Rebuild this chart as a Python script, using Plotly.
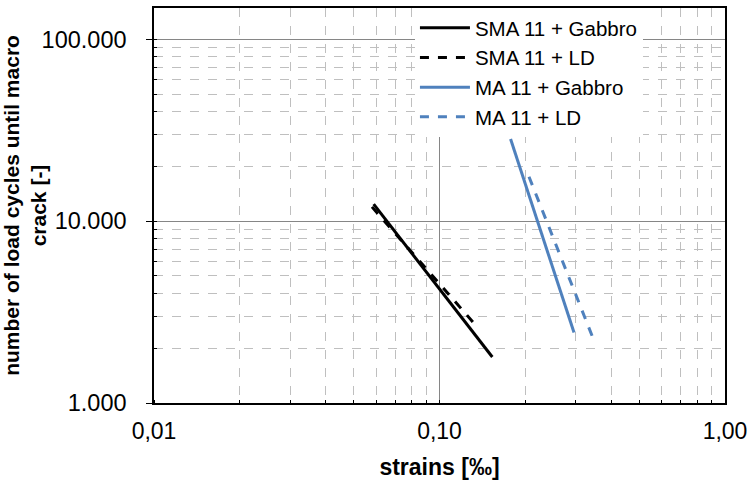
import plotly.graph_objects as go
import math

# Data (strain [‰], load cycles)
sma_gabbro_x = [0.0588, 0.1531]
sma_gabbro_y = [12400, 1790]
sma_ld_x = [0.0580, 0.1356]
sma_ld_y = [11980, 2620]
ma_gabbro_x = [0.1774, 0.2959]
ma_gabbro_y = [28270, 2440]
ma_ld_x = [0.2058, 0.3435]
ma_ld_y = [17530, 2310]

series_names = ["SMA 11 + Gabbro", "SMA 11 + LD", "MA 11 + Gabbro", "MA 11 + LD"]
x_tickvals = [0.01, 0.1, 1.0]
y_tickvals = [1000, 10000, 100000]

BLACK = "#000000"
BLUE = "#4F81BD"
FONT = "Arial, Liberation Sans, sans-serif"

fig = go.Figure()
fig.add_trace(go.Scatter(x=sma_gabbro_x, y=sma_gabbro_y, mode="lines", name=series_names[0],
                         line=dict(color=BLACK, width=3)))
fig.add_trace(go.Scatter(x=sma_ld_x, y=sma_ld_y, mode="lines", name=series_names[1],
                         line=dict(color=BLACK, width=3, dash="dash")))
fig.add_trace(go.Scatter(x=ma_gabbro_x, y=ma_gabbro_y, mode="lines", name=series_names[2],
                         line=dict(color=BLUE, width=3)))
fig.add_trace(go.Scatter(x=ma_ld_x, y=ma_ld_y, mode="lines", name=series_names[3],
                         line=dict(color=BLUE, width=3, dash="dash")))

fig.update_layout(
    width=751, height=483,
    margin=dict(l=154, r=26, t=8, b=80, autoexpand=False),
    paper_bgcolor="white", plot_bgcolor="white",
    separators=",.",
    font=dict(family=FONT, size=22, color="black"),
    showlegend=True,
    legend=dict(x=0.457, y=1.0, xanchor="left", yanchor="top",
                bgcolor="white", borderwidth=0, itemwidth=50,
                font=dict(family=FONT, size=20.5, color="black"),
                tracegroupgap=0),
    xaxis=dict(
        type="log", range=[-2, 0], automargin=False,
        tickvals=x_tickvals, tickformat=".2f",
        showgrid=True, gridcolor="#868686", gridwidth=1,
        showline=True, linecolor="black", linewidth=1.5, mirror=True,
        ticks="", zeroline=False, ticklabelstandoff=7,
        ticklabeloverflow="allow",
        tickfont=dict(family=FONT, size=23),
        minor=dict(dtick="D1", showgrid=True, gridcolor="#BFBFBF", griddash="dash", gridwidth=1,
                   ticks="inside", ticklen=3, tickcolor="black"),
        title=dict(text="<b>strains [‰]</b>", font=dict(family=FONT, size=23), standoff=16),
    ),
    yaxis=dict(
        type="log", range=[3, math.log10(148600)], automargin=False,
        tickvals=y_tickvals, tickformat=",d",
        showgrid=True, gridcolor="#868686", gridwidth=1,
        showline=True, linecolor="black", linewidth=1.5, mirror=True,
        ticks="outside", ticklen=6, tickcolor="black", zeroline=False,
        ticklabelstandoff=15,
        tickfont=dict(family=FONT, size=23.5),
        minor=dict(dtick="D1", showgrid=True, gridcolor="#BFBFBF", griddash="dash", gridwidth=1,
                   ticks="inside", ticklen=3, tickcolor="black"),
        title=dict(text="<b>number of load cycles until macro<br>crack [-]</b>",
                   font=dict(family=FONT, size=21), standoff=0),
    ),
)

fig.write_html(
    "out.html",
    config={"displayModeBar": False},
    post_script="document.body.style.margin='0';document.body.style.overflow='hidden';",
)
